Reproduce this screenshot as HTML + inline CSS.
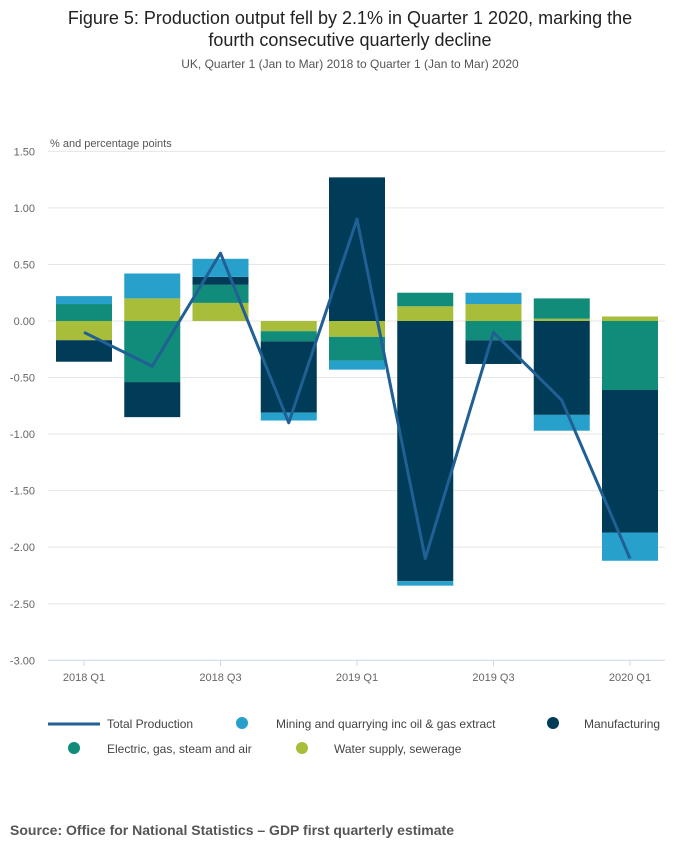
<!DOCTYPE html>
<html><head><meta charset="utf-8"><style>
body{margin:0;background:#fff;font-family:"Liberation Sans",sans-serif}
</style></head><body>
<svg id="c" width="700" height="857" xmlns="http://www.w3.org/2000/svg" font-family="Liberation Sans, sans-serif">
<text x="350" y="24" text-anchor="middle" font-size="18" fill="#222">Figure 5: Production output fell by 2.1% in Quarter 1 2020, marking the</text>
<text x="350" y="46" text-anchor="middle" font-size="18" fill="#222">fourth consecutive quarterly decline</text>
<text x="350" y="68" text-anchor="middle" font-size="12" fill="#555">UK, Quarter 1 (Jan to Mar) 2018 to Quarter 1 (Jan to Mar) 2020</text>
<text x="50" y="147" font-size="11" fill="#555">% and percentage points</text>
<g id="grid"></g><g id="bars"></g><g id="line"></g><g id="xax"></g>
<g font-size="12" fill="#444">
<line x1="48" y1="724" x2="100" y2="724" stroke="#206095" stroke-width="3"/>
<text x="107" y="728">Total Production</text>
<circle cx="242" cy="723" r="6" fill="#27a0cc"/>
<text x="276" y="728">Mining and quarrying inc oil &amp; gas extract</text>
<circle cx="553" cy="723" r="6" fill="#003c57"/>
<text x="584" y="728">Manufacturing</text>
<circle cx="74" cy="748" r="6" fill="#118c7b"/>
<text x="107" y="753">Electric, gas, steam and air</text>
<circle cx="302" cy="748" r="6" fill="#a8bd3a"/>
<text x="334" y="753">Water supply, sewerage</text>
</g>
<text x="10" y="835" font-size="14" font-weight="bold" fill="#555">Source: Office for National Statistics – GDP first quarterly estimate</text>
</svg>
<script>
const categories=["2018 Q1","2018 Q2","2018 Q3","2018 Q4","2019 Q1","2019 Q2","2019 Q3","2019 Q4","2020 Q1"];
const xLabels=["2018 Q1","","2018 Q3","","2019 Q1","","2019 Q3","","2020 Q1"];
const yTicks=[1.5,1,0.5,0,-0.5,-1,-1.5,-2,-2.5,-3];
const water=[-0.17,0.2,0.16,-0.09,-0.14,0.13,0.15,0.02,0.04];
const electric=[0.15,-0.54,0.16,-0.09,-0.21,0.12,-0.17,0.18,-0.61];
const manufacturing=[-0.19,-0.31,0.07,-0.63,1.27,-2.3,-0.21,-0.83,-1.26];
const mining=[0.07,0.22,0.16,-0.07,-0.08,-0.04,0.1,-0.14,-0.25];
const total=[-0.1,-0.4,0.6,-0.9,0.9,-2.1,-0.1,-0.7,-2.1];
const NS="http://www.w3.org/2000/svg";
function y(v){return 321-v*113.1;}
function x(i){return 84+i*68.25;}
function mk(t,a,p){const e=document.createElementNS(NS,t);for(const k in a)e.setAttribute(k,a[k]);p.appendChild(e);return e;}
const g=document.getElementById('grid');
yTicks.forEach(v=>{
 const l=mk('line',{x1:48,x2:665,y1:y(v),y2:y(v),stroke:v===-3?'#ccd6eb':'#e6e6e6'},g);
 
 
 const t=mk('text',{x:35,y:y(v)+4,'text-anchor':'end','font-size':11,fill:'#666'},g);
 t.textContent=v.toFixed(2);
 
 
});
const series=[[water,'#a8bd3a','water'],[electric,'#118c7b','electric'],[manufacturing,'#003c57','manufacturing'],[mining,'#27a0cc','mining']];
const b=document.getElementById('bars');
categories.forEach((c,i)=>{
 let pos=0,neg=0;
 series.forEach(([d,col,n])=>{
  const v=d[i];let y0,y1;
  if(v>=0){y0=pos;y1=pos+v;pos=y1;}else{y0=neg;y1=neg+v;neg=y1;}
  const r=mk('rect',{x:x(i)-28,width:56,y:Math.min(y(y0),y(y1)),height:Math.abs(y(y0)-y(y1)),fill:col},b);
  
  
 });
});
const ln=document.getElementById('line');
const p=mk('polyline',{points:total.map((v,i)=>x(i)+','+y(v)).join(' '),fill:'none',stroke:'#206095','stroke-width':3,'stroke-linejoin':'round'},ln);


const xa=document.getElementById('xax');
xLabels.forEach((l,i)=>{
 if(!l)return;
 const tk=mk('line',{x1:x(i),x2:x(i),y1:660,y2:666,stroke:'#ccd6eb'},xa);
 
 
 const t=mk('text',{x:x(i),y:681,'text-anchor':'middle','font-size':11,fill:'#666'},xa);
 t.textContent=l;
 
 
});
</script>
</body></html>
